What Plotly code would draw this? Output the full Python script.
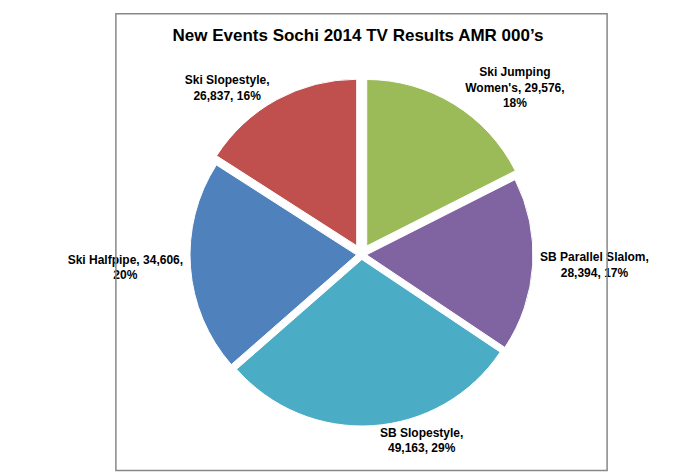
import plotly.graph_objects as go

labels = ["Ski Jumping Women's", "SB Parallel Slalom", "SB Slopestyle", "Ski Halfpipe", "Ski Slopestyle"]
values = [29576, 28394, 49163, 34606, 26837]
text_labels = ["<b>Ski Jumping<br>Women's, 29,576,<br>18%</b>", "<b>SB Parallel Slalom,<br>28,394, 17%</b>",
               "<b>SB Slopestyle,<br>49,163, 29%</b>", "<b>Ski Halfpipe, 34,606,<br>20%</b>", "<b>Ski Slopestyle,<br>26,837, 16%</b>"]
colors = ["#9BBB59", "#8064A2", "#4BACC6", "#4F81BD", "#C0504D"]

fig = go.Figure(go.Pie(
    labels=labels, values=values, text=text_labels,
    texttemplate="%{text}", textposition="outside", textinfo="text",
    sort=False, direction="clockwise", rotation=0,
    pull=[0.06, 0.03, 0.03, 0.03, 0.06],
    marker=dict(colors=colors, line=dict(color="white", width=1)),
    textfont=dict(family="Liberation Sans, Arial", size=12, color="black"),
    showlegend=False,
))
fig.update_layout(
    width=700, height=472,
    paper_bgcolor="white",
    title=dict(text="<b>New Events Sochi 2014 TV Results AMR 000’s</b>", x=0.5, y=0.955,
               font=dict(family="Liberation Sans, Arial", size=17, color="black")),
    margin=dict(l=90, r=90, t=70, b=45),
    shapes=[dict(type="rect", xref="paper", yref="paper", x0=-0.162, x1=1.162, y0=-0.112, y1=1.182,
                 line=dict(color="#888888", width=1.5))],
)
fig.write_html("out.html")
